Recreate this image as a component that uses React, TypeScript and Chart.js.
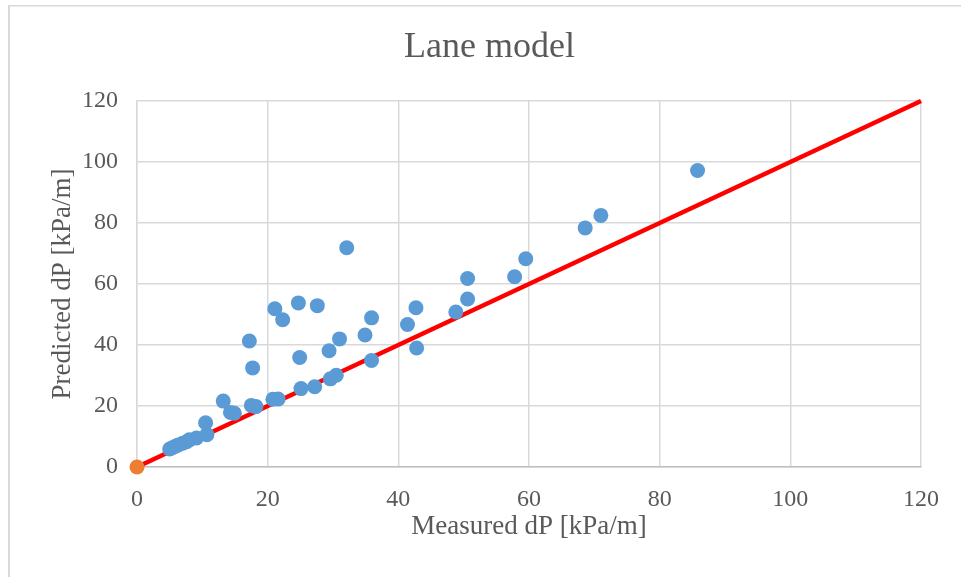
import React, { useEffect, useRef } from "react";
import { Chart, registerables } from "chart.js";

Chart.register(...registerables);

// Measured vs. predicted pressure gradient, Lane model [kPa/m]
const measured = [
  5.0, 5.4, 5.9, 6.3, 7.0, 7.6, 8.0, 9.1, 10.7, 10.5,
  13.2, 14.3, 14.9, 17.5, 18.2, 20.8, 21.6, 17.2, 17.7, 21.1,
  22.3, 24.7, 27.6, 24.9, 25.1, 27.2, 29.4, 29.6, 30.5, 31.0,
  32.1, 34.9, 35.9, 35.9, 41.4, 42.7, 42.8, 48.8, 50.6, 50.6,
  57.8, 59.5, 68.6, 71.0, 85.8,
];
const predicted = [
  5.9, 6.3, 6.8, 7.2, 7.8, 8.3, 8.9, 9.5, 10.6, 14.5,
  21.6, 17.9, 17.6, 20.2, 19.8, 22.2, 22.3, 41.3, 32.5, 51.9,
  48.3, 53.8, 52.9, 35.9, 25.7, 26.3, 38.1, 28.9, 30.1, 42.0,
  71.9, 43.3, 48.9, 34.9, 46.7, 52.2, 39.0, 50.8, 61.8, 55.1,
  62.4, 68.3, 78.4, 82.5, 97.2,
];

// Origin marker and the 1:1 parity line
const originX = [0];
const originY = [0];
const parityX = [0, 120];
const parityY = [0, 120];

const axisMin = 0;
const axisMax = 120;
const axisStep = 20;

const chartTitle = "Lane model";
const xTitle = "Measured dP [kPa/m]";
const yTitle = "Predicted dP [kPa/m]";

const SERIF = "'Liberation Serif', 'Times New Roman', serif";
const TEXT = "#595959";
const GRID = "#d9d9d9";

const toPoints = (xs: number[], ys: number[]) => xs.map((x, i) => ({ x, y: ys[i] }));

// Frame around the chart and the centred title
const framePlugin = {
  id: "frameAndTitle",
  beforeDraw(chart: any) {
    const { ctx } = chart;
    ctx.save();
    ctx.fillStyle = "#ffffff";
    ctx.fillRect(0, 0, chart.width, chart.height);
    ctx.fillStyle = GRID;
    ctx.fillRect(8, 5, chart.width - 8, 1.5);
    ctx.fillRect(8, 5, 2, chart.height - 5);
    ctx.restore();
  },
  afterDraw(chart: any) {
    const { ctx } = chart;
    ctx.save();
    ctx.font = `36px ${SERIF}`;
    ctx.fillStyle = TEXT;
    ctx.textAlign = "center";
    ctx.textBaseline = "alphabetic";
    ctx.fillText(chartTitle, 489.5, 57);
    ctx.restore();
  },
};

export default function App() {
  const canvasRef = useRef<HTMLCanvasElement | null>(null);

  useEffect(() => {
    const canvas = canvasRef.current;
    if (!canvas) return;

    const chart = new Chart(canvas, {
      type: "scatter",
      data: {
        datasets: [
          {
            label: "Lane model",
            data: toPoints(measured, predicted),
            backgroundColor: "#5B9BD5",
            borderColor: "#5B9BD5",
            pointRadius: 7.5,
            pointBorderWidth: 0,
            clip: false,
            order: 0,
          } as any,
          {
            label: "Origin",
            data: toPoints(originX, originY),
            backgroundColor: "#ED7D31",
            borderColor: "#ED7D31",
            pointRadius: 7.5,
            pointBorderWidth: 0,
            clip: false,
            order: 1,
          } as any,
          {
            label: "1:1",
            type: "line",
            data: toPoints(parityX, parityY),
            borderColor: "#FF0000",
            borderWidth: 4.5,
            pointRadius: 0,
            showLine: true,
            fill: false,
            clip: false,
            order: 2,
          } as any,
        ],
      },
      options: {
        responsive: false,
        animation: false,
        layout: { padding: { top: 101, right: 40, left: 0, bottom: 0 } },
        plugins: {
          legend: { display: false },
          tooltip: { enabled: false },
          title: { display: false },
        },
        scales: {
          x: {
            type: "linear",
            min: axisMin,
            max: axisMax,
            afterFit: (scale: any) => {
              scale.height = 110;
            },
            ticks: {
              stepSize: axisStep,
              color: TEXT,
              padding: 18,
              font: { family: SERIF, size: 24 },
            },
            grid: { color: GRID, lineWidth: 1.5, drawTicks: false },
            border: { color: "#bfbfbf", width: 1.5 },
            title: {
              display: true,
              text: xTitle,
              color: TEXT,
              font: { family: SERIF, size: 27 },
              padding: { top: 0, bottom: 34 },
            },
          },
          y: {
            type: "linear",
            min: axisMin,
            max: axisMax,
            afterFit: (scale: any) => {
              scale.width = 137;
            },
            ticks: {
              stepSize: axisStep,
              color: TEXT,
              padding: 19,
              font: { family: SERIF, size: 24 },
            },
            grid: { color: GRID, lineWidth: 1.5, drawTicks: false },
            border: { color: GRID, width: 1.5 },
            title: {
              display: true,
              text: yTitle,
              color: TEXT,
              font: { family: SERIF, size: 27 },
              padding: { top: 47, bottom: 0 },
            },
          },
        },
      },
      plugins: [framePlugin],
    });

    return () => chart.destroy();
  }, []);

  return (
    <div
      style={{
        position: "absolute",
        left: 0,
        top: 0,
        width: 961,
        height: 577,
        overflow: "hidden",
        background: "#ffffff",
      }}
    >
      <canvas ref={canvasRef} width={961} height={577} style={{ display: "block" }} />
    </div>
  );
}
